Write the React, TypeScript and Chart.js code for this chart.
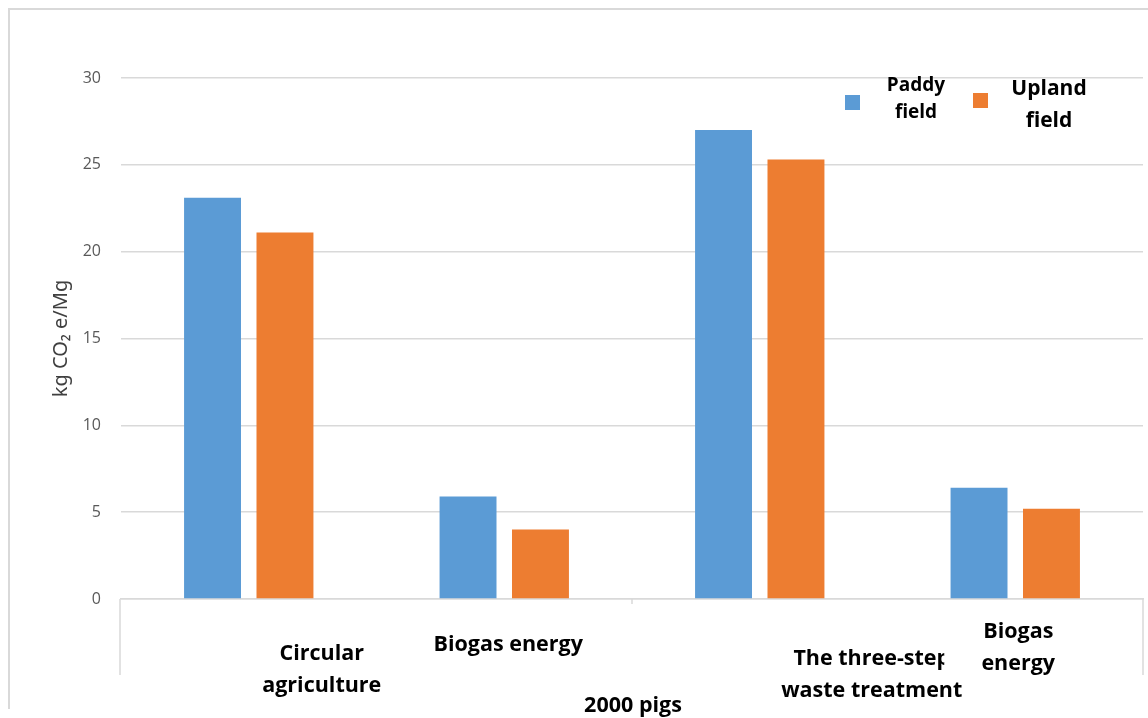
import { useEffect, useRef } from 'react';
import { Chart, registerables } from 'chart.js';

Chart.register(...registerables);

// Category labels (multi-line), group label and series
const categoryLabels: string[][] = [
  ['Circular', 'agriculture'],
  ['Biogas energy'],
  ['The three-step', 'waste treatment'],
  ['Biogas', 'energy'],
];
const groupLabel = '2000 pigs';
const seriesNames: string[][] = [
  ['Paddy', 'field'],
  ['Upland', 'field'],
];
const paddyField = [23.1, 5.9, 27.0, 6.4];
const uplandField = [21.1, 4.0, 25.3, 5.2];
const yMin = 0;
const yMax = 30;
const yStep = 5;
const yTitle = 'kg CO\u2082 e/Mg';

const BLUE = '#5B9BD5';
const ORANGE = '#ED7D31';
const GRID = '#d9d9d9';
const LABEL_FONT = '700 21.5px "Open Sans"';

// Placement of each category label relative to its category centre
const labelLayout = [
  { dx: 73, y: 644, gap: 32, boxHalf: 0 },
  { dx: 4, y: 635, gap: 32, boxHalf: 0 },
  { dx: 112, y: 649, gap: 32, boxHalf: 0 },
  { dx: 3, y: 622, gap: 32, boxHalf: 74 },
];

// Legend entries: square position and text block, relative to the chart area's right/top
const legendLayout = [
  { sqX: -298, sqY: 17, textX: -227, textY: 8, gap: 27, size: 19 },
  { sqX: -170, sqY: 15, textX: -94, textY: 11, gap: 32, size: 21 },
];

const axisDecor = {
  id: 'axisDecor',
  afterDraw(chart: any) {
    const { ctx, chartArea, scales } = chart;
    const x = scales.x;
    const n = categoryLabels.length;
    const half = (x.getPixelForValue(1) - x.getPixelForValue(0)) / 2;
    const left = x.getPixelForValue(0) - half;
    const right = x.getPixelForValue(n - 1) + half;
    const mid = (left + right) / 2;
    const base = chartArea.bottom;

    ctx.save();
    // multi-level axis frame lines
    ctx.strokeStyle = GRID;
    ctx.lineWidth = 1.5;
    ctx.beginPath();
    ctx.moveTo(left - 1, base);
    ctx.lineTo(left - 1, base + 76);
    ctx.moveTo(mid, base);
    ctx.lineTo(mid, base + 5);
    ctx.moveTo(right, base);
    ctx.lineTo(right, base + 76);
    ctx.stroke();

    // category labels
    ctx.font = LABEL_FONT;
    ctx.fillStyle = '#000';
    ctx.textAlign = 'center';
    ctx.textBaseline = 'middle';
    categoryLabels.forEach((lines, i) => {
      const lay = labelLayout[i];
      const cx = x.getPixelForValue(i) + lay.dx;
      if (lay.boxHalf > 0) {
        // label box with a white fill, laid over its neighbour
        ctx.fillStyle = '#fff';
        ctx.fillRect(cx - lay.boxHalf, lay.y - 18, lay.boxHalf * 2, lay.gap * (lines.length - 1) + 32);
        ctx.fillStyle = '#000';
      }
      lines.forEach((line, j) => {
        ctx.fillText(line, cx, lay.y + j * lay.gap);
      });
    });
    ctx.fillText(groupLabel, mid + 1, 696);

    // legend
    const colors = chart.data.datasets.map((d: any) => d.backgroundColor);
    seriesNames.forEach((lines, i) => {
      const lay = legendLayout[i];
      ctx.fillStyle = colors[i];
      ctx.fillRect(chartArea.right + lay.sqX, chartArea.top + lay.sqY, 15, 15);
      ctx.fillStyle = '#000';
      ctx.font = `700 ${lay.size}px "Open Sans"`;
      lines.forEach((line, j) => {
        ctx.fillText(line, chartArea.right + lay.textX, chartArea.top + lay.textY + j * lay.gap);
      });
    });
    ctx.restore();
  },
};

export default function App() {
  const canvasRef = useRef<HTMLCanvasElement | null>(null);

  useEffect(() => {
    if (!canvasRef.current) return;
    const chart = new Chart(canvasRef.current, {
      type: 'bar',
      data: {
        labels: categoryLabels.map((l) => l.join(' ')),
        datasets: [
          {
            label: seriesNames[0].join(' '),
            data: paddyField,
            backgroundColor: BLUE,
            barPercentage: 0.786,
            categoryPercentage: 0.567,
          },
          {
            label: seriesNames[1].join(' '),
            data: uplandField,
            backgroundColor: ORANGE,
            barPercentage: 0.786,
            categoryPercentage: 0.567,
          },
        ],
      },
      options: {
        responsive: false,
        animation: false,
        layout: { padding: { top: 68, right: 5, left: 0, bottom: 0 } },
        plugins: {
          legend: { display: false },
          tooltip: { enabled: false },
        },
        scales: {
          x: {
            ticks: { display: false },
            grid: { display: false },
            border: { display: true, color: GRID, width: 1.5 },
            afterFit: (scale: any) => {
              scale.height = 119;
            },
          },
          y: {
            min: yMin,
            max: yMax,
            ticks: {
              stepSize: yStep,
              padding: 20,
              color: '#595959',
              font: { family: '"Open Sans"', size: 16 },
            },
            grid: { color: GRID, lineWidth: 1.5, drawTicks: false },
            border: { display: false },
            title: {
              display: true,
              text: yTitle,
              color: '#404040',
              font: { family: '"Noto Sans"', size: 20 },
              padding: { top: 39, bottom: 0 },
            },
            afterFit: (scale: any) => {
              scale.width = 111;
            },
          },
        },
      },
      plugins: [axisDecor],
    });
    return () => chart.destroy();
  }, []);

  return (
    <div style={{ position: 'fixed', left: 8, top: 8, width: 1140, height: 710, overflow: 'hidden' }}>
      {/* outer frame: top and left edges */}
      <div style={{ position: 'absolute', left: 0, top: 0, width: 1140, height: 2, background: GRID }} />
      <div style={{ position: 'absolute', left: 0, top: 0, width: 2, height: 701, background: GRID }} />
      <canvas
        ref={canvasRef}
        width={1138}
        height={708}
        style={{ position: 'absolute', left: 2, top: 2, display: 'block' }}
      />
    </div>
  );
}
